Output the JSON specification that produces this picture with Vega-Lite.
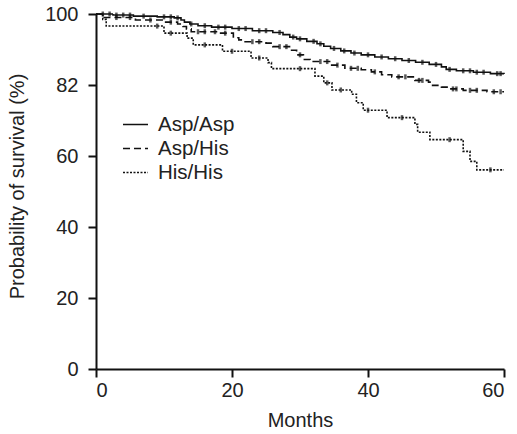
{
  "$schema": "https://vega.github.io/schema/vega-lite/v6.json",
  "autosize": {"type": "none"},
  "width": 408,
  "height": 355,
  "padding": {"left": 96, "top": 14, "right": 13, "bottom": 65},
  "background": "white",
  "config": {
    "view": {"stroke": null},
    "font": "Liberation Sans",
    "axis": {
      "grid": false,
      "domainColor": "#111",
      "domainWidth": 2,
      "tickColor": "#111",
      "tickWidth": 2,
      "tickSize": 8,
      "labelFont": "Liberation Sans",
      "labelFontSize": 20,
      "labelColor": "#222",
      "titleFont": "Liberation Sans",
      "titleFontSize": 20,
      "titleFontWeight": "normal",
      "titleColor": "#222"
    },
    "legend": {
      "labelFont": "Liberation Sans",
      "labelFontSize": 20.5,
      "labelColor": "#222"
    }
  },
  "datasets": {
    "steps": [
      {"group": "Asp/Asp", "month": 0, "surv": 100},
      {"group": "Asp/Asp", "month": 2.5, "surv": 99.7},
      {"group": "Asp/Asp", "month": 5.5, "surv": 99.4},
      {"group": "Asp/Asp", "month": 9, "surv": 99.2},
      {"group": "Asp/Asp", "month": 11.5, "surv": 98.9},
      {"group": "Asp/Asp", "month": 12.5, "surv": 98.3},
      {"group": "Asp/Asp", "month": 13, "surv": 97.7},
      {"group": "Asp/Asp", "month": 13.8, "surv": 97.2},
      {"group": "Asp/Asp", "month": 15, "surv": 96.7},
      {"group": "Asp/Asp", "month": 17, "surv": 96.3},
      {"group": "Asp/Asp", "month": 20, "surv": 95.9},
      {"group": "Asp/Asp", "month": 23, "surv": 95.3},
      {"group": "Asp/Asp", "month": 26, "surv": 94.8},
      {"group": "Asp/Asp", "month": 27.5, "surv": 94.2},
      {"group": "Asp/Asp", "month": 28.5, "surv": 93.5},
      {"group": "Asp/Asp", "month": 29.5, "surv": 93},
      {"group": "Asp/Asp", "month": 31, "surv": 92.3},
      {"group": "Asp/Asp", "month": 32.5, "surv": 91.6},
      {"group": "Asp/Asp", "month": 33.5, "surv": 90.9},
      {"group": "Asp/Asp", "month": 34.5, "surv": 90.3},
      {"group": "Asp/Asp", "month": 36, "surv": 89.6},
      {"group": "Asp/Asp", "month": 37.5, "surv": 89},
      {"group": "Asp/Asp", "month": 39, "surv": 88.5},
      {"group": "Asp/Asp", "month": 41, "surv": 87.9},
      {"group": "Asp/Asp", "month": 43, "surv": 87.4},
      {"group": "Asp/Asp", "month": 45, "surv": 86.9},
      {"group": "Asp/Asp", "month": 47, "surv": 86.4},
      {"group": "Asp/Asp", "month": 49, "surv": 85.8},
      {"group": "Asp/Asp", "month": 50.8, "surv": 85.1},
      {"group": "Asp/Asp", "month": 51.5, "surv": 84.4},
      {"group": "Asp/Asp", "month": 53, "surv": 84},
      {"group": "Asp/Asp", "month": 55.5, "surv": 83.6},
      {"group": "Asp/Asp", "month": 58, "surv": 83.2},
      {"group": "Asp/Asp", "month": 60, "surv": 83.1},
      {"group": "Asp/His", "month": 0, "surv": 100},
      {"group": "Asp/His", "month": 0.9, "surv": 99},
      {"group": "Asp/His", "month": 5.8, "surv": 98.3},
      {"group": "Asp/His", "month": 10, "surv": 97.7},
      {"group": "Asp/His", "month": 12, "surv": 97.2},
      {"group": "Asp/His", "month": 12.8, "surv": 96.5},
      {"group": "Asp/His", "month": 13.3, "surv": 95.8},
      {"group": "Asp/His", "month": 14, "surv": 95},
      {"group": "Asp/His", "month": 18, "surv": 94.6},
      {"group": "Asp/His", "month": 20.2, "surv": 93.3},
      {"group": "Asp/His", "month": 21, "surv": 92.7},
      {"group": "Asp/His", "month": 21.8, "surv": 92.2},
      {"group": "Asp/His", "month": 25, "surv": 91.8},
      {"group": "Asp/His", "month": 26, "surv": 90.8},
      {"group": "Asp/His", "month": 28.6, "surv": 89.8},
      {"group": "Asp/His", "month": 29.5, "surv": 88.5},
      {"group": "Asp/His", "month": 30.5, "surv": 87.2},
      {"group": "Asp/His", "month": 31.5, "surv": 86.6},
      {"group": "Asp/His", "month": 34.5, "surv": 85.6},
      {"group": "Asp/His", "month": 36.6, "surv": 84.7},
      {"group": "Asp/His", "month": 39, "surv": 84.3},
      {"group": "Asp/His", "month": 40.5, "surv": 83.7},
      {"group": "Asp/His", "month": 42, "surv": 82.9},
      {"group": "Asp/His", "month": 43.5, "surv": 82.3},
      {"group": "Asp/His", "month": 46.9, "surv": 81.3},
      {"group": "Asp/His", "month": 48.9, "surv": 80.8},
      {"group": "Asp/His", "month": 49.5, "surv": 79.9},
      {"group": "Asp/His", "month": 50.8, "surv": 79.4},
      {"group": "Asp/His", "month": 51.8, "surv": 78.9},
      {"group": "Asp/His", "month": 54, "surv": 78.5},
      {"group": "Asp/His", "month": 57.5, "surv": 78.1},
      {"group": "Asp/His", "month": 60, "surv": 78.1},
      {"group": "His/His", "month": 0, "surv": 100},
      {"group": "His/His", "month": 1.0, "surv": 98.5},
      {"group": "His/His", "month": 1.5, "surv": 96.6},
      {"group": "His/His", "month": 10, "surv": 94.6},
      {"group": "His/His", "month": 13.4, "surv": 93.2},
      {"group": "His/His", "month": 14.3, "surv": 91.3},
      {"group": "His/His", "month": 18.6, "surv": 89.5},
      {"group": "His/His", "month": 22.8, "surv": 87.6},
      {"group": "His/His", "month": 25.3, "surv": 86.3},
      {"group": "His/His", "month": 25.8, "surv": 84.6},
      {"group": "His/His", "month": 32.2, "surv": 82.5},
      {"group": "His/His", "month": 33.5, "surv": 80.6},
      {"group": "His/His", "month": 34.7, "surv": 78.6},
      {"group": "His/His", "month": 37.6, "surv": 77.4},
      {"group": "His/His", "month": 38.3, "surv": 75},
      {"group": "His/His", "month": 39.3, "surv": 72.9},
      {"group": "His/His", "month": 42.8, "surv": 70.8},
      {"group": "His/His", "month": 46.9, "surv": 68.9},
      {"group": "His/His", "month": 47.3, "surv": 66.7},
      {"group": "His/His", "month": 49.1, "surv": 64.6},
      {"group": "His/His", "month": 54, "surv": 61.3},
      {"group": "His/His", "month": 55, "surv": 58.5},
      {"group": "His/His", "month": 56, "surv": 56.1},
      {"group": "His/His", "month": 60, "surv": 56.1}
    ],
    "censors": [
      {"group": "Asp/Asp", "month": 1, "surv": 100},
      {"group": "Asp/Asp", "month": 2, "surv": 100},
      {"group": "Asp/Asp", "month": 3, "surv": 99.7},
      {"group": "Asp/Asp", "month": 4, "surv": 99.7},
      {"group": "Asp/Asp", "month": 5, "surv": 99.7},
      {"group": "Asp/Asp", "month": 7, "surv": 99.4},
      {"group": "Asp/Asp", "month": 10, "surv": 99.2},
      {"group": "Asp/Asp", "month": 11, "surv": 99.2},
      {"group": "Asp/Asp", "month": 12, "surv": 98.9},
      {"group": "Asp/Asp", "month": 14, "surv": 97.2},
      {"group": "Asp/Asp", "month": 16, "surv": 96.7},
      {"group": "Asp/Asp", "month": 18, "surv": 96.3},
      {"group": "Asp/Asp", "month": 19, "surv": 96.3},
      {"group": "Asp/Asp", "month": 21, "surv": 95.9},
      {"group": "Asp/Asp", "month": 22, "surv": 95.9},
      {"group": "Asp/Asp", "month": 24, "surv": 95.3},
      {"group": "Asp/Asp", "month": 25, "surv": 95.3},
      {"group": "Asp/Asp", "month": 27, "surv": 94.8},
      {"group": "Asp/Asp", "month": 29, "surv": 93.5},
      {"group": "Asp/Asp", "month": 30, "surv": 93},
      {"group": "Asp/Asp", "month": 32, "surv": 92.3},
      {"group": "Asp/Asp", "month": 33, "surv": 91.6},
      {"group": "Asp/Asp", "month": 35, "surv": 90.3},
      {"group": "Asp/Asp", "month": 36.5, "surv": 89.6},
      {"group": "Asp/Asp", "month": 38, "surv": 89},
      {"group": "Asp/Asp", "month": 40, "surv": 88.5},
      {"group": "Asp/Asp", "month": 42, "surv": 87.9},
      {"group": "Asp/Asp", "month": 44, "surv": 87.4},
      {"group": "Asp/Asp", "month": 46, "surv": 86.9},
      {"group": "Asp/Asp", "month": 48, "surv": 86.4},
      {"group": "Asp/Asp", "month": 50, "surv": 85.8},
      {"group": "Asp/Asp", "month": 52, "surv": 84.4},
      {"group": "Asp/Asp", "month": 54, "surv": 84},
      {"group": "Asp/Asp", "month": 55, "surv": 84},
      {"group": "Asp/Asp", "month": 56, "surv": 83.6},
      {"group": "Asp/Asp", "month": 57, "surv": 83.6},
      {"group": "Asp/Asp", "month": 59, "surv": 83.2},
      {"group": "Asp/Asp", "month": 59.5, "surv": 83.2},
      {"group": "Asp/His", "month": 3, "surv": 99},
      {"group": "Asp/His", "month": 5, "surv": 99},
      {"group": "Asp/His", "month": 8, "surv": 98.3},
      {"group": "Asp/His", "month": 11, "surv": 97.7},
      {"group": "Asp/His", "month": 15, "surv": 95},
      {"group": "Asp/His", "month": 16, "surv": 95},
      {"group": "Asp/His", "month": 17.5, "surv": 95},
      {"group": "Asp/His", "month": 19, "surv": 94.6},
      {"group": "Asp/His", "month": 23, "surv": 92.2},
      {"group": "Asp/His", "month": 24, "surv": 92.2},
      {"group": "Asp/His", "month": 27, "surv": 90.8},
      {"group": "Asp/His", "month": 28, "surv": 90.8},
      {"group": "Asp/His", "month": 30, "surv": 88.5},
      {"group": "Asp/His", "month": 33, "surv": 86.6},
      {"group": "Asp/His", "month": 34, "surv": 86.6},
      {"group": "Asp/His", "month": 35.5, "surv": 85.6},
      {"group": "Asp/His", "month": 37.5, "surv": 84.7},
      {"group": "Asp/His", "month": 38.5, "surv": 84.7},
      {"group": "Asp/His", "month": 41, "surv": 83.7},
      {"group": "Asp/His", "month": 44.5, "surv": 82.3},
      {"group": "Asp/His", "month": 45.5, "surv": 82.3},
      {"group": "Asp/His", "month": 47.5, "surv": 81.3},
      {"group": "Asp/His", "month": 48, "surv": 81.3},
      {"group": "Asp/His", "month": 52.5, "surv": 78.9},
      {"group": "Asp/His", "month": 53, "surv": 78.9},
      {"group": "Asp/His", "month": 55, "surv": 78.5},
      {"group": "Asp/His", "month": 56, "surv": 78.5},
      {"group": "Asp/His", "month": 58.5, "surv": 78.1},
      {"group": "Asp/His", "month": 59.5, "surv": 78.1},
      {"group": "His/His", "month": 9, "surv": 96.6},
      {"group": "His/His", "month": 11, "surv": 94.6},
      {"group": "His/His", "month": 16, "surv": 91.3},
      {"group": "His/His", "month": 20, "surv": 89.5},
      {"group": "His/His", "month": 24, "surv": 87.6},
      {"group": "His/His", "month": 30, "surv": 84.6},
      {"group": "His/His", "month": 34, "surv": 80.6},
      {"group": "His/His", "month": 36, "surv": 78.6},
      {"group": "His/His", "month": 40, "surv": 72.9},
      {"group": "His/His", "month": 45, "surv": 70.8},
      {"group": "His/His", "month": 52, "surv": 64.6},
      {"group": "His/His", "month": 58, "surv": 56.1}
    ]
  },
  "encoding": {
    "x": {
      "field": "month", "type": "quantitative",
      "scale": {"domain": [0, 60], "nice": false},
      "axis": {"values": [0, 20, 40, 60], "title": "Months", "labelPadding": 3, "titlePadding": 10}
    },
    "y": {
      "field": "surv", "type": "quantitative",
      "scale": {"domain": [0, 100], "nice": false},
      "axis": {
        "values": [0, 20, 40, 60, 80, 100],
        "labelExpr": "datum.value == 80 ? '82' : datum.label",
        "title": "Probability of survival (%)",
        "labelPadding": 10,
        "titlePadding": 17,
        "titleY": 172
      }
    }
  },
  "layer": [
    {
      "data": {"name": "steps"},
      "mark": {"type": "line", "interpolate": "step-after", "color": "#111", "strokeWidth": 1.6},
      "encoding": {
        "detail": {"field": "group"},
        "strokeDash": {
          "field": "group", "type": "nominal",
          "scale": {"domain": ["Asp/Asp", "Asp/His", "His/His"], "range": [[1, 0], [7, 4], [2, 1.5]]},
          "legend": {
            "title": null,
            "orient": "none",
            "legendX": 26,
            "legendY": 97,
            "padding": 0,
            "symbolType": "stroke",
            "symbolSize": 625,
            "symbolStrokeColor": "#111",
            "symbolStrokeWidth": 1.6,
            "labelOffset": 9,
            "rowPadding": -1.5
          }
        }
      }
    },
    {
      "data": {"name": "censors"},
      "mark": {"type": "tick", "orient": "vertical", "color": "#111", "size": 5, "thickness": 2.5}
    }
  ]
}
